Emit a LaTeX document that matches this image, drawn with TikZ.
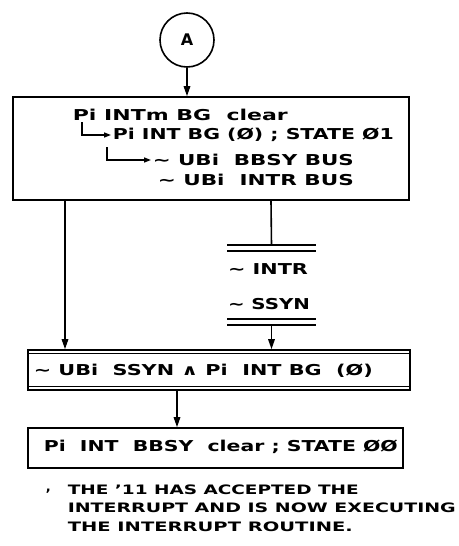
\documentclass[tikz,border=0pt]{standalone}
\usepackage{fontspec}
\setmainfont{DejaVu Sans}
\usetikzlibrary{arrows.meta}
\newcommand\hw[2]{\sbox0{#2}\pgfmathsetmacro\hwfac{#1/\the\wd0}\scalebox{\hwfac}[1]{\usebox0}}
\begin{document}
\begin{tikzpicture}[x=1pt,y=-1pt, line width=1.6pt,
  box/.style={draw, inner sep=0pt, line width=1.6pt},
  txt/.style={anchor=west, inner sep=0pt, font=\fontsize{15}{17}\selectfont\bfseries},
  note/.style={anchor=west, inner sep=0pt, font=\fontsize{13}{15}\selectfont\bfseries},
  arr/.style={-{Triangle[length=10pt,width=6.5pt]}},
  hook/.style={-{Triangle[length=7pt,width=5pt]}, line width=1.4pt, shorten >=1pt},
  bar/.style={minimum width=87pt, minimum height=4.5pt, inner sep=0pt}]
\useasboundingbox (0,0) rectangle (458,546);
\coordinate (L) at (65,0);
\coordinate (R) at (271,0);
\coordinate (M) at (177,0);
% circle A
\node[draw, circle, minimum size=54pt, inner sep=0pt, font=\fontsize{16}{18}\selectfont\bfseries] (A) at (187,40) {A};
% top box
\node[box, minimum width=396pt, minimum height=103pt] (top) at (211,148.5) {};
\draw[arr] (A.south) -- (A.south |- top.north);
\node[txt] (l1) at (72,115) {\hw{215}{Pi INTm BG\ \ clear}};
\node[txt] (l2) at (112,135) {\hw{281}{Pi INT BG (Ø) ; STATE Ø1}};
\coordinate (h1) at (82,122);
\draw[hook] (h1) |- (l2.west);
\node[txt] (l3) at (152,160) {\hw{201}{∼ UBi\ \ BBSY BUS}};
\coordinate (h2) at (107,147);
\draw[hook] (h2) |- (l3.west);
\node[txt] (l4) at (157,180) {\hw{196}{∼ UBi\ \ INTR BUS}};
% bars and labels
\node[bar] (bar1) at (271.5,248) {};
\draw[line width=1.5pt] (bar1.north west) -- (bar1.north east) (bar1.south west) -- (bar1.south east);
\draw (R |- top.south) -- (bar1.north);
\node[txt, anchor=center] (intr) at (268,269) {\hw{80}{∼ INTR}};
\node[txt, anchor=center] (ssyn) at (269,304) {\hw{82}{∼ SSYN}};
\node[bar] (bar2) at (271.5,322) {};
\draw[line width=1.5pt] (bar2.north west) -- (bar2.north east) (bar2.south west) -- (bar2.south east);
% double box
\node[box, minimum width=382pt, minimum height=40pt] (dbl) at (219,370) {};
\draw[line width=1.3pt] ([yshift=-4.5pt]dbl.north west) -- ([yshift=-4.5pt]dbl.north east);
\draw[line width=1.3pt] ([yshift=4pt]dbl.south west) -- ([yshift=4pt]dbl.south east);
\node[txt] (d1) at (33,371) {\hw{339}{∼ UBi\ \ SSYN ∧ Pi\ \ INT BG\ \ (Ø)}};
\draw[arr] (L |- top.south) -- (L |- dbl.north);
\draw[arr] (bar2.south) -- (bar2.south |- dbl.north);
% bottom box
\node[box, minimum width=375pt, minimum height=40pt] (bot) at (215.5,448) {};
\draw[arr] (M |- dbl.south) -- (M |- bot.north);
\node[txt] (b1) at (43,447) {\hw{354}{Pi\ \ INT\ \ BBSY\ \ clear ; STATE ØØ}};
% note
\node[note] (n0) at (45,491) {,};
\node[note] (n1) at (67,490) {\hw{291}{THE '11 HAS ACCEPTED THE}};
\node[note] (n2) at (67,508) {\hw{388}{INTERRUPT AND IS NOW EXECUTING}};
\node[note] (n3) at (67,527) {\hw{285}{THE INTERRUPT ROUTINE.}};
\end{tikzpicture}
\end{document}
